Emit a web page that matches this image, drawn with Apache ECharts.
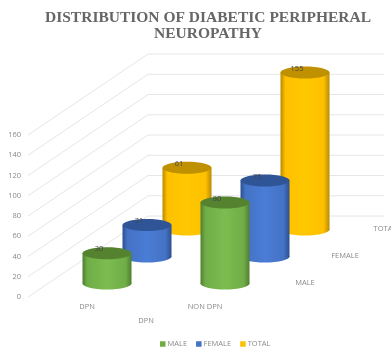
<!DOCTYPE html>
<html>
<head>
<meta charset="utf-8">
<style>html,body{margin:0;padding:0;background:#fff;overflow:hidden}#main{width:391px;height:348px;filter:blur(0.6px)}</style>
<script src="https://cdn.jsdelivr.net/npm/echarts@6/dist/echarts.min.js"></script>
</head>
<body>
<div id="main"></div>
<script>
const categories = ['DPN', 'NON DPN'];
const yTicks = [0, 20, 40, 60, 80, 100, 120, 140, 160];
const male = [30, 80];
const female = [31, 75];
const total = [61, 155];
const seriesNames = ['MALE', 'FEMALE', 'TOTAL'];
const seriesValues = [male, female, total];
const palette = [
  { base: '#70ad47', light: '#7cbc4f', dark: '#4f7f30', top: '#55822f' },
  { base: '#4472c4', light: '#4a7dd6', dark: '#2c5090', top: '#2f5597' },
  { base: '#ffc000', light: '#ffc800', dark: '#b98a00', top: '#bf9000' }
];
const DX = 40, DY = -27, RX = 24.5, RY = 6;
const textColor = '#8a8a8a';

function cylinder(layer) {
  return function (params, api) {
    const c = palette[layer];
    const base = api.coord([api.value(0), 0]);
    const top = api.coord([api.value(0), api.value(1)]);
    const cx = base[0] + DX * (layer + 0.5);
    const by = base[1] + DY * (layer + 0.5);
    const ty = top[1] + DY * (layer + 0.5);
    const grad = new echarts.graphic.LinearGradient(0, 0, 1, 0, [
      { offset: 0, color: c.dark },
      { offset: 0.1, color: c.base },
      { offset: 0.5, color: c.light },
      { offset: 0.88, color: c.base },
      { offset: 1, color: c.dark }
    ]);
    return {
      type: 'group',
      children: [
        { type: 'ellipse', shape: { cx: cx, cy: by, rx: RX, ry: RY }, style: { fill: grad } },
        { type: 'rect', shape: { x: cx - RX, y: ty, width: RX * 2, height: by - ty }, style: { fill: grad } },
        { type: 'ellipse', shape: { cx: cx, cy: ty, rx: RX, ry: RY }, style: { fill: c.top } },
        { type: 'text', x: cx - 8, y: ty - 4, style: { text: String(api.value(1)), fill: '#444', font: '7.5px "Open Sans", sans-serif', align: 'center', verticalAlign: 'middle' } }
      ]
    };
  };
}

const series = [{
  type: 'custom',
  name: 'walls',
  silent: true,
  z: 1,
  encode: { x: 0, y: 1 },
  data: yTicks.map(function (t) { return [0, t]; }),
  renderItem: function (params, api) {
    const cs = params.coordSys;
    const y = api.coord([0, api.value(1)])[1];
    const x1 = cs.x + DX * 3, y1 = y + DY * 3;
    return {
      type: 'polyline',
      shape: { points: [[cs.x, y], [x1, y1], [x1 + cs.width, y1]] },
      style: { fill: 'none', stroke: '#e6e6e6', lineWidth: 1 }
    };
  }
}, {
  type: 'custom',
  name: 'depth',
  silent: true,
  z: 1,
  encode: { x: 0, y: 1 },
  data: seriesNames.map(function (n, i) { return [i, 0]; }),
  renderItem: function (params, api) {
    const cs = params.coordSys;
    const i = api.value(0);
    const y = api.coord([0, 0])[1];
    return {
      type: 'text',
      x: cs.x + cs.width + 1 + DX * (i + 1),
      y: y - 14 + DY * i,
      style: { text: seriesNames[i], fill: textColor, font: '7.5px "Open Sans", sans-serif', align: 'center', verticalAlign: 'middle' }
    };
  }
}];
seriesNames.forEach(function (name, i) {
  series.push({
    type: 'custom',
    name: name,
    z: 5 - i,
    itemStyle: { color: palette[i].base },
    encode: { x: 0, y: 1 },
    data: seriesValues[i].map(function (v, k) { return [k, v]; }),
    renderItem: cylinder(i)
  });
});

const chart = echarts.init(document.getElementById('main'), null, { renderer: 'canvas' });
chart.setOption({
  animation: false,
  backgroundColor: '#fff',
  title: {
    text: 'DISTRIBUTION OF DIABETIC PERIPHERAL\nNEUROPATHY',
    left: 203, top: 5, textAlign: 'center',
    textStyle: { fontFamily: '"Liberation Serif", serif', fontWeight: 'bold', fontSize: 15.5, lineHeight: 16, color: '#666666' }
  },
  legend: {
    data: seriesNames,
    left: 160, top: 340,
    icon: 'rect', itemWidth: 5.5, itemHeight: 5.5, itemGap: 9,
    padding: 0,
    selectedMode: false,
    textStyle: { fontFamily: '"Open Sans", sans-serif', fontSize: 7.5, color: textColor, padding: [0, 0, 0, -3] }
  },
  grid: { left: 28, top: 135, width: 236, height: 162 },
  xAxis: {
    type: 'category',
    data: categories,
    name: 'DPN',
    nameLocation: 'middle',
    nameGap: 20,
    nameTextStyle: { fontFamily: '"Open Sans", sans-serif', fontSize: 7.5, color: textColor },
    axisLine: { show: false }, axisTick: { show: false },
    axisLabel: { margin: 6, fontFamily: '"Open Sans", sans-serif', fontSize: 7.5, color: textColor }
  },
  yAxis: {
    type: 'value',
    min: yTicks[0], max: yTicks[yTicks.length - 1], interval: 20,
    axisLine: { show: false }, axisTick: { show: false }, splitLine: { show: false },
    axisLabel: { margin: 7, fontFamily: '"Open Sans", sans-serif', fontSize: 7.5, color: textColor }
  },
  series: series
});
</script>
</body>
</html>
